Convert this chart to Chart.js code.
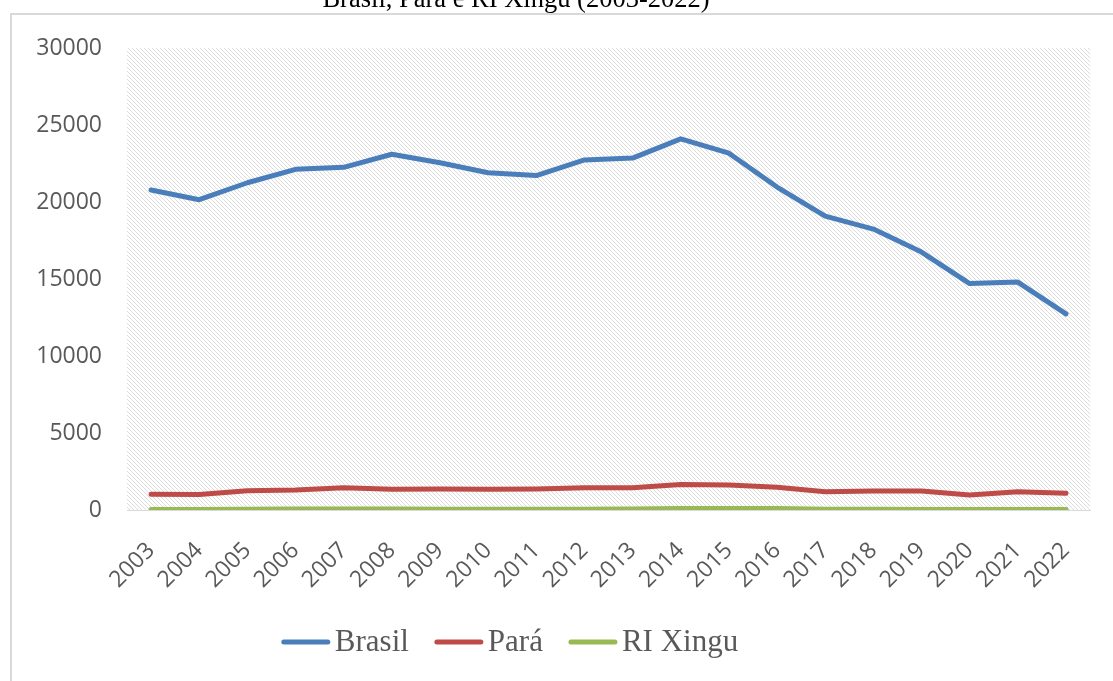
<!DOCTYPE html>
<html>
<head>
<meta charset="utf-8">
<script src="https://cdn.jsdelivr.net/npm/chart.js@4/dist/chart.umd.min.js"></script>
<style>
  html, body { margin: 0; padding: 0; background: #fff; overflow: hidden; }
  #wrap { position: relative; width: 1113px; height: 681px; }
</style>
</head>
<body>
<div id="wrap"><canvas id="c" width="1113" height="681"></canvas></div>
<script>
const titleText = "Brasil, Pará e RI Xingu (2003-2022)";
const years = ["2003","2004","2005","2006","2007","2008","2009","2010","2011","2012","2013","2014","2015","2016","2017","2018","2019","2020","2021","2022"];
const seriesNames = ["Brasil", "Pará", "RI Xingu"];
const brasil = [20780, 20150, 21250, 22120, 22250, 23100, 22550, 21900, 21720, 22730, 22850, 24100, 23170, 20970, 19080, 18240, 16750, 14700, 14800, 12730];
const para = [1020, 1010, 1250, 1300, 1450, 1340, 1370, 1340, 1370, 1450, 1450, 1660, 1620, 1470, 1190, 1235, 1235, 980, 1190, 1080];
const xingu = [30, 30, 50, 60, 60, 60, 50, 50, 50, 50, 60, 100, 100, 90, 50, 50, 40, 40, 40, 40];
const yTicks = [0, 5000, 10000, 15000, 20000, 25000, 30000];
const colors = ["#4A7EBB", "#BE4B48", "#98B954"];

function makeHatch() {
  const p = document.createElement('canvas');
  p.width = 4; p.height = 4;
  const g = p.getContext('2d');
  g.fillStyle = '#ffffff';
  g.fillRect(0, 0, 4, 4);
  g.strokeStyle = '#d8d8d8';
  g.lineWidth = 0.9;
  g.beginPath();
  g.moveTo(-1, -1); g.lineTo(5, 5);
  g.moveTo(-1, 3); g.lineTo(1, 5);
  g.moveTo(3, -1); g.lineTo(5, 1);
  g.stroke();
  return p;
}

const bgPlugin = {
  id: 'bg',
  beforeDraw(chart) {
    const ctx = chart.ctx;
    const a = chart.chartArea;
    ctx.save();
    ctx.fillStyle = '#ffffff';
    ctx.fillRect(0, 0, chart.width, chart.height);
    ctx.strokeStyle = '#d9d9d9';
    ctx.lineWidth = 2;
    ctx.strokeRect(11, 14, 1300, 900);
    ctx.fillStyle = '#000000';
    ctx.font = '26.5px "Liberation Serif", "Times New Roman", serif';
    ctx.textAlign = 'center';
    ctx.textBaseline = 'alphabetic';
    ctx.fillText(titleText, 516, 7);
    ctx.fillStyle = ctx.createPattern(makeHatch(), 'repeat');
    ctx.fillRect(a.left, a.top, a.right - a.left, a.bottom - a.top);
    ctx.restore();
  },
  afterDraw(chart) {
    const ctx = chart.ctx;
    ctx.save();
    ctx.font = '31px "Liberation Serif", "Times New Roman", serif';
    const lineW = 48, gapText = 5, gapItem = 26;
    const items = chart.data.datasets.map(ds => ({label: ds.label, color: ds.borderColor, w: ctx.measureText(ds.label).width}));
    let total = 0;
    items.forEach((it, i) => { total += lineW + gapText + it.w + (i < items.length - 1 ? gapItem : 0); });
    let x = 510 - total / 2;
    const y = 642;
    ctx.textBaseline = 'middle';
    ctx.textAlign = 'left';
    items.forEach(it => {
      ctx.strokeStyle = it.color;
      ctx.lineWidth = 5;
      ctx.lineCap = 'round';
      ctx.beginPath();
      ctx.moveTo(x + 2, y);
      ctx.lineTo(x + lineW - 2, y);
      ctx.stroke();
      ctx.fillStyle = '#595959';
      ctx.fillText(it.label, x + lineW + gapText, y + 1);
      x += lineW + gapText + it.w + gapItem;
    });
    ctx.restore();
  }
};

const series = [brasil, para, xingu];
new Chart(document.getElementById('c'), {
  type: 'line',
  data: {
    labels: years,
    datasets: series.map((d, i) => ({
      label: seriesNames[i],
      data: d,
      borderColor: colors[i],
      backgroundColor: colors[i],
      borderWidth: 5,
      pointRadius: 0,
      tension: 0,
      borderCapStyle: 'round',
      borderJoinStyle: 'round',
      fill: false
    }))
  },
  options: {
    responsive: false,
    animation: false,
    devicePixelRatio: 1,
    layout: { padding: { left: 0, top: 48, right: 20, bottom: 0 } },
    plugins: {
      legend: { display: false },
      title: { display: false },
      tooltip: { enabled: false }
    },
    scales: {
      x: {
        offset: true,
        grid: { display: false, drawTicks: false },
        border: { display: true, color: '#d9d9d9', width: 1 },
        ticks: {
          color: '#595959',
          font: { family: '"Open Sans", sans-serif', size: 23 },
          minRotation: 45,
          maxRotation: 45,
          autoSkip: false,
          padding: 27
        },
        afterFit(scale) { scale.height = 171; }
      },
      y: {
        min: 0,
        max: 30000,
        grid: { display: false, drawTicks: false },
        border: { display: false },
        afterBuildTicks(scale) { scale.ticks = yTicks.map(v => ({ value: v })); },
        ticks: {
          color: '#595959',
          font: { family: '"Open Sans", sans-serif', size: 23 },
          padding: 25,
          callback: v => String(v)
        },
        afterFit(scale) { scale.width = 127; }
      }
    }
  },
  plugins: [bgPlugin]
});
</script>
</body>
</html>
